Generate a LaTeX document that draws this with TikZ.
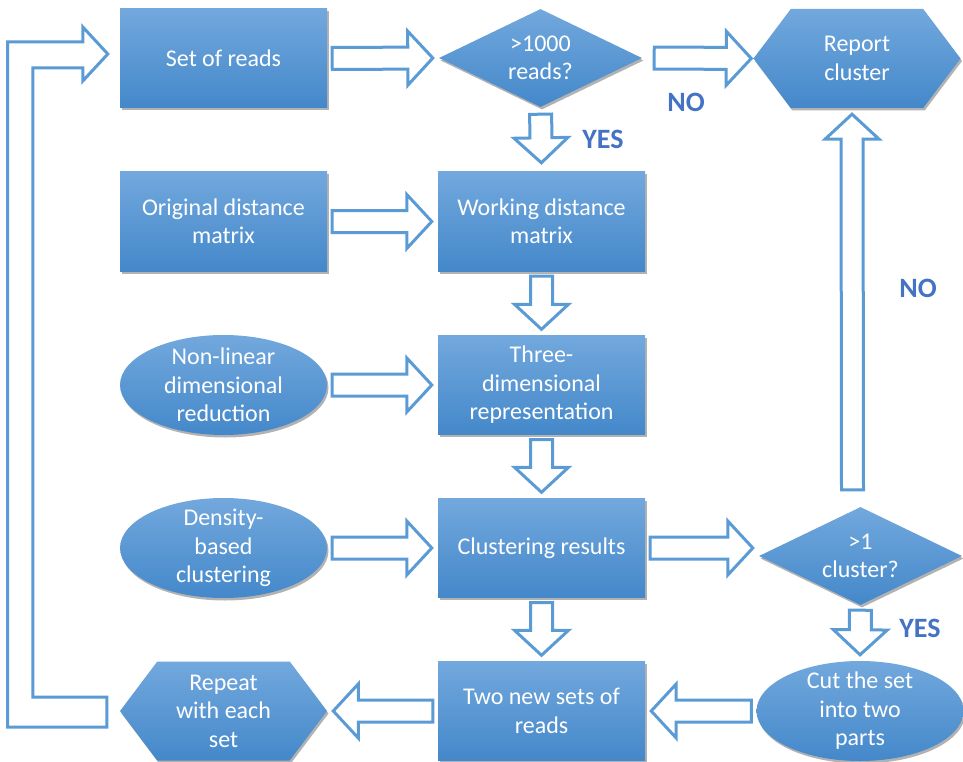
\documentclass[tikz,border=0pt]{standalone}
\usepackage{fontspec}
\setmainfont{Carlito}
\usetikzlibrary{calc,shapes,shadows,positioning}
\definecolor{boxtop}{RGB}{114,168,221}
\definecolor{boxbot}{RGB}{68,136,202}
\definecolor{arrowblue}{RGB}{91,155,213}
\definecolor{answer}{RGB}{68,114,196}
\tikzset{%
    step_fill/.style={%
        top color=boxtop, bottom color=boxbot, draw=none, text=white,
        font=\fontsize{24}{28.5}\selectfont, align=center, inner sep=0pt,
        drop shadow={shadow xshift=1.5pt, shadow yshift=-2.5pt, fill=black, opacity=0.3}
    },
    read_block/.style={%
        step_fill, rectangle, minimum width=207pt, minimum height=99pt
    },
    oval_step/.style={%
        step_fill, ellipse, minimum width=207pt, minimum height=100pt, inner sep=-6pt
    },
    decision/.style={%
        step_fill, diamond, aspect=2, minimum width=203pt, minimum height=98pt
    },
    flag_block/.style={%
        step_fill, signal, signal to=west and east, signal pointer angle=106,
        minimum width=207pt, minimum height=99pt
    },
    answer_label/.style={%
        text=answer, font=\fontsize{28}{32}\selectfont\bfseries
    },
    loop_arrow/.style={%
        draw=arrowblue, line width=3pt, line join=miter, fill=white
    },
    fat_arrow/.style={%
        draw=arrowblue, line width=3pt, line join=miter, fill=white,
        to path={%
            ($(\tikztostart)!5pt!(\tikztotarget)!11pt!90:(\tikztotarget)$) --
            ($(\tikztotarget)!31pt!(\tikztostart)!11pt!-90:(\tikztostart)$) --
            ($(\tikztotarget)!31pt!(\tikztostart)!27pt!-90:(\tikztostart)$) --
            ($(\tikztotarget)!6pt!(\tikztostart)$) --
            ($(\tikztotarget)!31pt!(\tikztostart)!27pt!90:(\tikztostart)$) --
            ($(\tikztotarget)!31pt!(\tikztostart)!11pt!90:(\tikztostart)$) --
            ($(\tikztostart)!5pt!(\tikztotarget)!11pt!-90:(\tikztotarget)$) -- cycle
        }
    },
}

\begin{document}
\begin{tikzpicture}[x=1pt,y=-1pt]
    \useasboundingbox (0,0) rectangle (963,762);

    % left column
    \node[read_block] (reads) at (223.5,58.5) {Set of reads};
    \node[read_block] (orig) at (223.5,221.5) {Original distance\\matrix};
    \node[oval_step] (nonlin) at (223.5,385) {Non-linear\\dimensional\\reduction};
    \node[oval_step] (density) at (223.5,548) {Density-\\based\\clustering};
    \node[flag_block] (again) at (223.5,711) {Repeat\\with each\\set};

    % middle column
    \node[decision] (many) at (540.5,58) {>1000\\reads?};
    \node[read_block] (work) at (541.5,221.5) {Working distance\\matrix};
    \node[read_block] (three) at (541.5,385) {Three-\\dimensional\\representation};
    \node[read_block] (result) at (541.5,548) {Clustering results};
    \node[read_block] (twosets) at (541.5,711) {Two new sets of\\reads};

    % right column
    \node[flag_block] (report) at (857,58.5) {Report\\cluster};
    \node[decision] (split) at (860.5,556) {>1\\cluster?};
    \node[oval_step] (cut) at (860,711) {Cut the set\\into two\\parts};

    % block arrows
    \draw[fat_arrow] (reads.east) to (many.west);
    \draw[fat_arrow] ([xshift=7pt]many.east) to ([xshift=4pt]report.west);
    \draw[fat_arrow] ([yshift=-2pt]many.south) to ([yshift=3pt]work.north);
    \draw[fat_arrow] (orig.east) to (work.west);
    \draw[fat_arrow] (work.south) to (three.north);
    \draw[fat_arrow] (nonlin.east) to (three.west);
    \draw[fat_arrow] (three.south) to (result.north);
    \draw[fat_arrow] (density.east) to (result.west);
    \draw[fat_arrow] (result.east) to ([yshift=8pt]split.west);
    \draw[fat_arrow] (result.south) to (twosets.north);
    \draw[fat_arrow] (split.south) to (cut.north);
    \draw[fat_arrow] (cut.west) to (twosets.east);
    \draw[fat_arrow] (twosets.west) to (again.east);
    \draw[fat_arrow] ([xshift=-8pt,yshift=12pt]split.north) to ([xshift=-5pt]report.south);

    % loop back to the set of reads
    \draw[loop_arrow] ($(again.west)+(-13,-14)$) -- ++(-74,0)
        |- ($(reads.west)+(-37,9.5)$) -- ($(reads.west)+(-37,22.5)$)
        -- ($(reads.west)+(-12,-4.5)$) -- ($(reads.west)+(-37,-31.5)$)
        -- ($(reads.west)+(-37,-16.5)$) -| ($(again.west)+(-112,16)$)
        -- ($(again.west)+(-13,16)$) -- cycle;

    % answers
    \node[answer_label] (no1) at (686,102) {NO};
    \node[answer_label] (yes1) at (603,139) {YES};
    \node[answer_label] (no2) at (918,288) {NO};
    \node[answer_label] (yes2) at (920,628) {YES};
\end{tikzpicture}
\end{document}
